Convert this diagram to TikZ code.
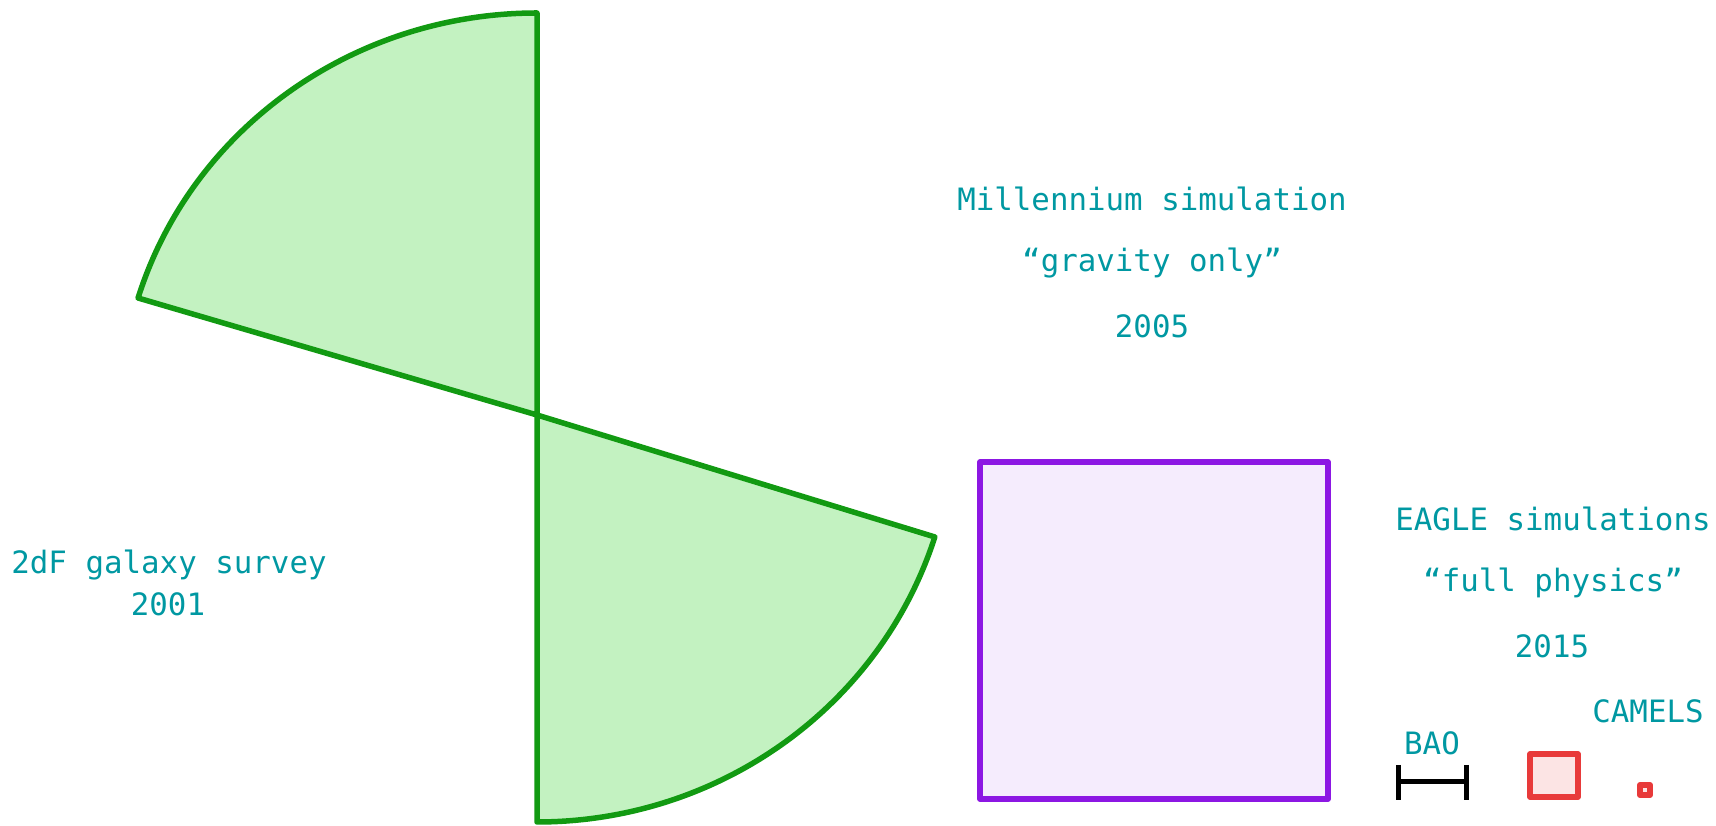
\documentclass[tikz,border=0pt]{standalone}
\usepackage{fontspec}
\setmonofont{DejaVu Sans Mono}
\definecolor{txt}{HTML}{0098A2}
\definecolor{gstroke}{HTML}{129A12}
\definecolor{gfill}{HTML}{C3F2C1}
\definecolor{pstroke}{HTML}{8C17E3}
\definecolor{pfill}{HTML}{F5ECFD}
\definecolor{rstroke}{HTML}{E83A3A}
\definecolor{rfill}{HTML}{FCE4E4}
\tikzset{
  lbl/.style={anchor=base, inner sep=0pt, text=txt, font=\ttfamily\fontsize{30.8}{36}\selectfont},
  wedge/.style={draw=gstroke, fill=gfill, line width=5.5pt, line join=round},
  boxbig/.style={draw=pstroke, fill=pfill, line width=5.5pt, line join=round},
  boxred/.style={draw=rstroke, fill=rfill, line width=5.5pt, line join=round},
  baobar/.style={draw=black, line width=5pt}
}
\begin{document}
\begin{tikzpicture}[x=1pt,y=1pt]
\useasboundingbox (0,0) rectangle (1716,826);
\coordinate (C) at (537,411);
% 2dF wedges
\draw[wedge] (C) -- (537,813) arc[start angle=90, end angle=163.08, x radius=417, y radius=402] -- cycle;
\draw[wedge] (C) -- (537,4) arc[start angle=-90, end angle=-17.44, x radius=417, y radius=407] -- cycle;
% Millennium box
\draw[boxbig] (980,27) rectangle (1328,364);
% EAGLE box
\draw[boxred] (1530,29) rectangle (1578,72);
% CAMELS box
\draw[boxred, line width=6pt] (1640,31) rectangle (1650,41);
% BAO scale bar
\coordinate (b1t) at (1398.5,61);
\coordinate (b1b) at (1398.5,26);
\coordinate (b2t) at (1466.5,61);
\coordinate (b2b) at (1466.5,26);
\coordinate (b1m) at (1398.5,44);
\coordinate (b2m) at (1466.5,44);
\draw[baobar] (b1t) -- (b1b);
\draw[baobar] (b2t) -- (b2b);
\draw[baobar] (b1m) -- (b2m);
% labels
\node[lbl] (mill1) at (1152,615) {Millennium simulation};
\node[lbl] (mill2) at (1152,554) {“gravity only”};
\node[lbl] (mill3) at (1152,488) {2005};
\node[lbl] (tdf1) at (169,252.7) {2dF galaxy survey};
\node[lbl] (tdf2) at (168,210) {2001};
\node[lbl] (eag1) at (1553,295.3) {EAGLE simulations};
\node[lbl] (eag2) at (1553,234.3) {“full physics”};
\node[lbl] (eag3) at (1552,168) {2015};
\node[lbl] (bao) at (1432,71) {BAO};
\node[lbl] (cam) at (1648,103) {CAMELS};
\end{tikzpicture}
\end{document}
